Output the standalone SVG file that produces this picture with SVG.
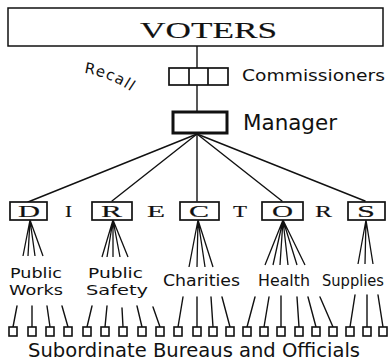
<svg xmlns="http://www.w3.org/2000/svg" width="388" height="362" viewBox="0 0 388 362">
<style>
.ln{stroke:#111;stroke-width:1.4;fill:none;stroke-linecap:round}
.fan{stroke:#111;stroke-width:1.3;fill:none}
.bx{fill:#fff;stroke:#111;stroke-width:1.7}
.sb{fill:#fff;stroke:#111;stroke-width:1.6}
.serif{font-family:"Liberation Serif","DejaVu Serif",serif;fill:#111;stroke:#111;stroke-width:0.15}
.sans{font-family:"DejaVu Sans","Liberation Sans",sans-serif;fill:#111}
</style>
<defs>
<path id="recallPath" d="M 84 73 Q 114 77 141 99"/>
</defs>
<rect width="388" height="362" fill="#fff"/>

<g id="connectors">
<line class="ln" x1="197" y1="46" x2="197" y2="68"/>
<line class="ln" x1="197" y1="85" x2="197" y2="112"/>
<line class="ln" x1="197" y1="134" x2="28" y2="202"/>
<line class="ln" x1="197" y1="134" x2="112" y2="201"/>
<line class="ln" x1="197" y1="134" x2="197" y2="201"/>
<line class="ln" x1="197" y1="134" x2="282" y2="201"/>
<line class="ln" x1="197" y1="134" x2="365" y2="201"/>
<g class="fan">
<path d="M30 220L23 256M30 220L28 256M30 220L35 256M30 220L43 256"/>
<path d="M113 220L102 257M113 220L107 257M113 220L113 257M113 220L120 257M113 220L128 257"/>
<path d="M198 220L189 267M198 220L197 267M198 220L205 267M198 220L213 267"/>
<path d="M283 220L265 265M283 220L273 265M283 220L280 265M283 220L288 265M283 220L297 265M283 220L305 265"/>
<path d="M366 220L358 264M366 220L365 264M366 220L373 264"/>
</g>
<g class="ln">
<path d="M17 306L13 327M32 306L32 327M47 306L50 327M62 306L68 327"/>
<path d="M92 306L87 327M107 306L105 327M122 308L123 327M137 306L142 327M153 307L160 327"/>
<path d="M183 297L178 327M197 297L197 327M211 297L213 327M222 297L230 327"/>
<path d="M255 297L247 327M269 297L264 327M281 296L281 327M297 297L299 327M308 297L316 327M320 297L333 327"/>
<path d="M355 295L350 327M367 295L367 327M378 295L383 327"/>
</g>
</g>

<g id="voters">
<rect x="8" y="8" width="375" height="38" fill="#fff" stroke="#111" stroke-width="1.5"/>
<text class="serif" x="140" y="38" font-size="23" textLength="137" lengthAdjust="spacingAndGlyphs" stroke-width="0.2">VOTERS</text>
</g>

<g id="recall">
<text class="sans" font-size="15" letter-spacing="1.2"><textPath href="#recallPath">Recall</textPath></text>
</g>

<g id="commissioners">
<rect class="bx" x="169" y="68" width="59" height="17" stroke-width="2"/>
<line x1="189" y1="68" x2="189" y2="85" stroke="#111" stroke-width="1.7"/>
<line x1="208" y1="68" x2="208" y2="85" stroke="#111" stroke-width="1.7"/>
<text class="sans" x="242" y="81" font-size="15" textLength="143" lengthAdjust="spacingAndGlyphs">Commissioners</text>
</g>

<g id="manager">
<rect x="173" y="112" width="54" height="21" fill="#fff" stroke="#111" stroke-width="3"/>
<text class="sans" x="243" y="130" font-size="22" textLength="94" lengthAdjust="spacingAndGlyphs">Manager</text>
</g>

<g id="directors">
<rect class="bx" x="10" y="202" width="37" height="18"/>
<text class="serif" x="18" y="217" font-size="16" textLength="22" lengthAdjust="spacingAndGlyphs">D</text>
<text class="serif" x="65" y="217" font-size="16" textLength="7" lengthAdjust="spacingAndGlyphs">I</text>
<rect class="bx" x="92" y="202" width="40" height="18"/>
<text class="serif" x="101" y="217" font-size="16" textLength="21" lengthAdjust="spacingAndGlyphs">R</text>
<text class="serif" x="147" y="217" font-size="16" textLength="18" lengthAdjust="spacingAndGlyphs">E</text>
<rect class="bx" x="180" y="202" width="39" height="18"/>
<text class="serif" x="189" y="217" font-size="16" textLength="20" lengthAdjust="spacingAndGlyphs">C</text>
<text class="serif" x="233" y="217" font-size="16" textLength="14" lengthAdjust="spacingAndGlyphs">T</text>
<rect class="bx" x="262" y="202" width="41" height="18"/>
<text class="serif" x="272" y="217" font-size="16" textLength="21" lengthAdjust="spacingAndGlyphs">O</text>
<text class="serif" x="315" y="217" font-size="16" textLength="17" lengthAdjust="spacingAndGlyphs">R</text>
<rect class="bx" x="348" y="202" width="37" height="18"/>
<text class="serif" x="357" y="217" font-size="16" textLength="18" lengthAdjust="spacingAndGlyphs">S</text>
</g>

<g id="departments">
<text class="sans" x="10" y="278" font-size="14" textLength="52" lengthAdjust="spacingAndGlyphs">Public</text>
<text class="sans" x="9" y="295" font-size="14" textLength="54" lengthAdjust="spacingAndGlyphs">Works</text>
<text class="sans" x="88" y="278" font-size="14" textLength="55" lengthAdjust="spacingAndGlyphs">Public</text>
<text class="sans" x="86" y="295" font-size="14" textLength="62" lengthAdjust="spacingAndGlyphs">Safety</text>
<text class="sans" x="163" y="286" font-size="15" textLength="77" lengthAdjust="spacingAndGlyphs">Charities</text>
<text class="sans" x="258" y="286" font-size="15" textLength="52" lengthAdjust="spacingAndGlyphs">Health</text>
<text class="sans" x="322" y="286" font-size="15" textLength="62" lengthAdjust="spacingAndGlyphs">Supplies</text>
</g>

<g id="subordinates">
<rect class="sb" x="9" y="327" width="8" height="9"/>
<rect class="sb" x="28" y="327" width="8" height="9"/>
<rect class="sb" x="46" y="327" width="8" height="9"/>
<rect class="sb" x="64" y="327" width="8" height="9"/>
<rect class="sb" x="83" y="327" width="8" height="9"/>
<rect class="sb" x="101" y="327" width="8" height="9"/>
<rect class="sb" x="119" y="327" width="8" height="9"/>
<rect class="sb" x="138" y="327" width="8" height="9"/>
<rect class="sb" x="156" y="327" width="8" height="9"/>
<rect class="sb" x="174" y="327" width="8" height="9"/>
<rect class="sb" x="193" y="327" width="8" height="9"/>
<rect class="sb" x="209" y="327" width="8" height="9"/>
<rect class="sb" x="226" y="327" width="8" height="9"/>
<rect class="sb" x="243" y="327" width="8" height="9"/>
<rect class="sb" x="260" y="327" width="8" height="9"/>
<rect class="sb" x="277" y="327" width="8" height="9"/>
<rect class="sb" x="295" y="327" width="8" height="9"/>
<rect class="sb" x="312" y="327" width="8" height="9"/>
<rect class="sb" x="329" y="327" width="8" height="9"/>
<rect class="sb" x="346" y="327" width="8" height="9"/>
<rect class="sb" x="363" y="327" width="8" height="9"/>
<rect class="sb" x="379" y="327" width="8" height="9"/>
<text class="sans" x="28" y="357" font-size="19" textLength="332" lengthAdjust="spacingAndGlyphs">Subordinate  Bureaus and Officials</text>
</g>
</svg>
